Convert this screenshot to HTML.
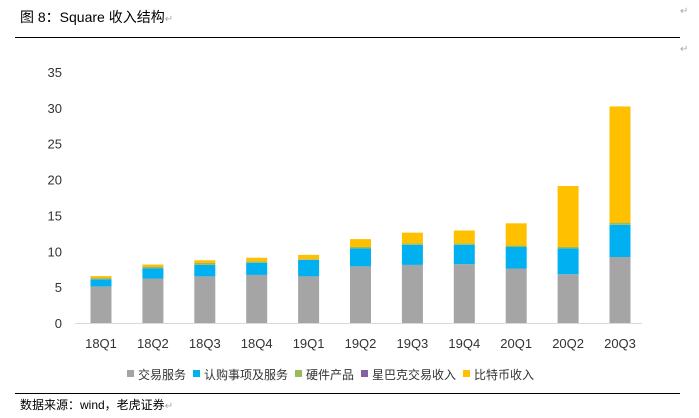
<!DOCTYPE html>
<html><head><meta charset="utf-8"><style>
body{margin:0;background:#fff;width:699px;height:413px;overflow:hidden;font-family:"Liberation Sans","Noto Sans CJK SC",sans-serif;}
</style></head><body>
<svg width="699" height="413" xmlns="http://www.w3.org/2000/svg">
<text x="20" y="22" font-size="14" fill="#000">图 8：Square 收入结构<tspan fill="#aaa" font-size="10">↵</tspan></text>
<text x="680" y="14" font-size="10" fill="#aaa">↵</text>
<line x1="15" y1="37.5" x2="680" y2="37.5" stroke="#000" stroke-width="1"/>
<text x="680" y="52" font-size="10" fill="#aaa">↵</text>
<g id="yaxis"></g>
<g id="bars"></g>
<line x1="75" y1="323.5" x2="642" y2="323.5" stroke="#d9d9d9"/>
<g id="xaxis"></g>
<g id="legend"></g>
<line x1="15" y1="393.5" x2="680" y2="393.5" stroke="#000"/>
<text x="20" y="409" font-size="12" fill="#000">数据来源：wind，老虎证券<tspan fill="#aaa" font-size="10">↵</tspan></text>
</svg>
<script>
const categories=["18Q1","18Q2","18Q3","18Q4","19Q1","19Q2","19Q3","19Q4","20Q1","20Q2","20Q3"];
const transaction=[5.1,6.2,6.5,6.7,6.5,7.9,8.1,8.2,7.6,6.8,9.2];
const subscription=[1.0,1.4,1.6,1.7,2.3,2.5,2.8,2.7,3.0,3.6,4.5];
const hardware=[0.1,0.2,0.2,0.2,0.1,0.2,0.2,0.2,0.2,0.2,0.3];
const starbucks=[0.05,0.05,0.05,0,0,0,0,0,0,0,0];
const bitcoin=[0.3,0.3,0.4,0.5,0.6,1.1,1.5,1.8,3.1,8.5,16.2];
const yTicks=[0,5,10,15,20,25,30,35];
const seriesNames=["交易服务","认购事项及服务","硬件产品","星巴克交易收入","比特币收入"];
const colors=["#a5a5a5","#00b0f0","#9bbb59","#8064a2","#ffc000"];
const NS="http://www.w3.org/2000/svg";
const y=v=>323-v*(251/35);
const x=i=>101+i*51.9;
function mk(t,a,p){const e=document.createElementNS(NS,t);for(const k in a)e.setAttribute(k,a[k]);p.appendChild(e);return e;}
const ya=document.getElementById('yaxis');
yTicks.forEach(t=>{const e=mk('text',{x:62,y:y(t)+5,'font-size':13,'text-anchor':'end',fill:'#333'},ya);e.textContent=t;

});
const xa=document.getElementById('xaxis');
categories.forEach((c,i)=>{const e=mk('text',{x:x(i),y:348,'font-size':13,'text-anchor':'middle',fill:'#333'},xa);e.textContent=c;

});
const series=[transaction,subscription,hardware,starbucks,bitcoin];
const bg=document.getElementById('bars');
categories.forEach((c,i)=>{let base=0;series.forEach((s,k)=>{const v=s[i];if(v<=0)return;
const r=mk('rect',{x:x(i)-10.5,y:y(base+v),width:21,height:y(base)-y(base+v),fill:colors[k]},bg);


base+=v;});});
const lg=document.getElementById('legend');
let lx=127;
seriesNames.forEach((n,k)=>{mk('rect',{x:lx,y:370,width:7,height:7,fill:colors[k]},lg);
const t=mk('text',{x:lx+11,y:379,'font-size':12,fill:'#333'},lg);t.textContent=n;


lx+=11+n.length*12+7;});
</script>
</body></html>
